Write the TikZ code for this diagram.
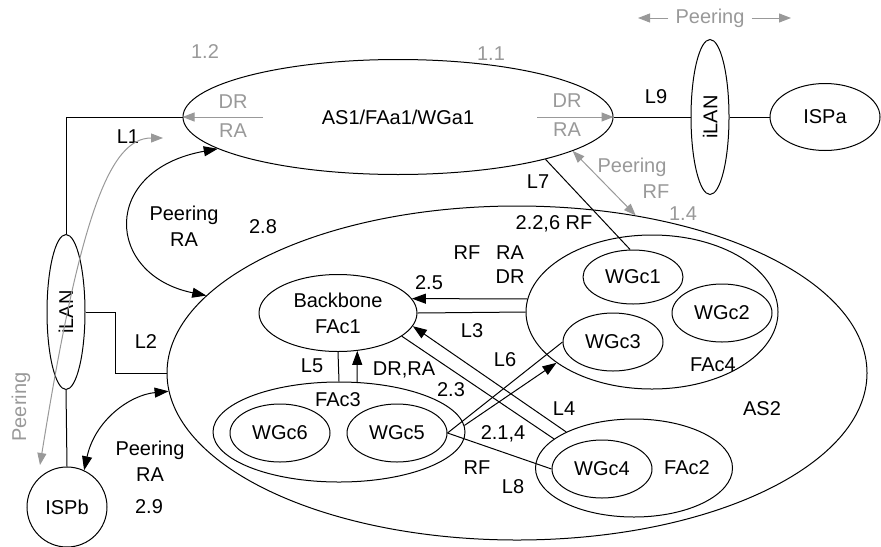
\documentclass[tikz,border=0pt]{standalone}
\usepackage{fontspec}
\setmainfont{Liberation Sans}
\usetikzlibrary{arrows.meta,shapes.geometric}
\definecolor{peergray}{gray}{0.6}

\begin{document}
\begin{tikzpicture}[x=0.5pt, y=-0.5pt,
  font=\fontsize{10}{13}\selectfont,
  dom/.style={draw, ellipse, inner sep=0pt, line width=0.5pt, align=center},
  lan/.style={dom, minimum width=19pt, minimum height=77.5pt},
  wg/.style={dom, minimum width=50pt, minimum height=29pt},
  link/.style={line width=0.5pt},
  msg/.style={line width=0.5pt, -{Triangle[length=7pt,width=5pt]}},
  peer/.style={line width=0.5pt, {Triangle[length=7pt,width=5pt]}-{Triangle[length=7pt,width=5pt]}},
  gmsg/.style={peergray, line width=0.5pt, -{Triangle[length=6pt,width=4.5pt]}},
  gpeer/.style={peergray, line width=0.5pt, {Triangle[length=6pt,width=4.5pt]}-{Triangle[length=6pt,width=4.5pt]}},
  glab/.style={text=peergray, inner sep=1pt, align=center},
  lab/.style={inner sep=1pt, align=center}]
  \useasboundingbox (0,0) rectangle (881,546);
  % domains
  \node[dom, minimum width=215pt, minimum height=57.5pt] (as1) at (398,117) {AS1/FAa1/WGa1};
  \node[dom, minimum width=350pt, minimum height=167pt] (as2) at (517,373) {};
  \node[lan] (ilana) at (710,117) {\rotatebox{90}{iLAN}};
  \node[lan] (ilanb) at (66,312) {\rotatebox{90}{iLAN}};
  \node[dom, minimum width=55pt, minimum height=33.5pt] (ispa) at (825,117) {ISPa};
  \node[draw, circle, minimum size=40pt, inner sep=0pt, line width=0.5pt] (ispb) at (67,507) {ISPb};
  \node[dom, minimum width=79pt, minimum height=38.5pt] (bb) at (338,313) {Backbone\\FAc1};
  \node[dom, minimum width=126pt, minimum height=50pt] (fac3) at (339,432) {};
  \node[wg] (wgc6) at (280,433) {WGc6};
  \node[wg] (wgc5) at (397,433) {WGc5};
  \node[dom, minimum width=126pt, minimum height=77pt] (fac4) at (652,312) {};
  \node[wg, minimum height=27pt] (wgc1) at (633,277) {WGc1};
  \node[wg] (wgc2) at (722,313) {WGc2};
  \node[wg] (wgc3) at (613,342) {WGc3};
  \node[dom, minimum width=98.5pt, minimum height=49pt] (fac2) at (634,468) {};
  \node[wg] (wgc4) at (602,469) {WGc4};
  \node[lab] (lfac3) at (338,400) {FAc3};
  \node[lab] (lfac4) at (713,365) {FAc4};
  \node[lab] (lfac2) at (687,468) {FAc2};
  \node[lab] (las2) at (762,409) {AS2};
  % links
  \draw[link] (ilanb.north) |- (as1.west);
  \draw[link] (ilanb.east) -- ++(30,0) |- (as2.west);
  \draw[link] (ilanb.south) -- (ispb.north);
  \draw[link] (as1.east) -- (ilana.west);
  \draw[link] (ilana.east) -- (ispa.west);
  \draw[link] (as1.-16) -- (wgc1.96);
  \draw[link] (fac4.west) -- (bb.east);
  \draw[link] (bb.south) -- (fac3.north);
  \draw[link] (wgc5.east) -- (wgc3.west);
  \draw[link] (wgc5.east) -- (wgc4.west);
  \draw[link] (bb.-20) -- (fac2.160);
  \node[lab] (l1) at (128,137) {L1};
  \node[lab] (l2) at (146,342) {L2};
  \node[lab] (l3) at (472,331) {L3};
  \node[lab] (l4) at (564,409) {L4};
  \node[lab] (l5) at (312,366) {L5};
  \node[lab] (l6) at (505,360) {L6};
  \node[lab] (l7) at (538,182) {L7};
  \node[lab] (l8) at (513,487) {L8};
  \node[lab] (l9) at (656,97) {L9};
  % messages inside AS2
  \draw[msg] (fac4.174) -- (bb.11);
  \draw[msg] (fac3.70) -- (bb.-63);
  \draw[msg] (fac3.3) -- (fac4.208);
  \draw[msg] (fac2.152) -- (bb.-10);
  \node[lab] (m25) at (429,283) {2.5};
  \node[lab] (mrf) at (467,253) {RF};
  \node[lab] (mra) at (510,253) {RA};
  \node[lab] (mdr) at (510,277) {DR};
  \node[lab] (m23) at (451,390) {2.3};
  \node[lab] (mdrra) at (404,370) {DR,RA};
  \node[lab] (m214) at (503,434) {2.1,4};
  \node[lab] (mrf2) at (477,468) {RF};
  \node[lab] (m226) at (554,224) {2.2,6 RF};
  % peering between domains
  \draw[peer] (as1.190) .. controls (100,170) and (105,275) .. (as2.166);
  \draw[peer] (ispb.65) .. controls (95,420) and (130,395) .. (as2.183);
  \node[lab] (p28) at (184,226) {Peering\\RA};
  \node[lab] (n28) at (263,227) {2.8};
  \node[lab] (p29) at (150,461) {Peering\\RA};
  \node[lab] (n29) at (149,507) {2.9};
  % AS1 exchanges (grey)
  \coordinate (drl) at (263,117);
  \coordinate (drr) at (537,117);
  \draw[gmsg] (drl) -- (as1.west);
  \draw[gmsg] (drr) -- (as1.east);
  \node[glab] (gdrl) at (233,102) {DR};
  \node[glab] (gral) at (233,131) {RA};
  \node[glab] (gdrr) at (567,101) {DR};
  \node[glab] (grar) at (567,130) {RA};
  \node[glab] (g12) at (205,52) {1.2};
  \node[glab] (g11) at (491,54) {1.1};
  \node[glab] (g14) at (683,214) {1.4};
  \draw[gpeer] (as1.-11) -- (as2.53);
  \node[glab] (gprf) at (632,167) {Peering};
  \node[glab] (grf) at (656,192) {RF};
  \node[text=peergray] (gpa) at (710,18) {Peering};
  \coordinate (gpal) at (638,18);
  \coordinate (gpar) at (791,18);
  \draw[gmsg] (gpa.west) -- (gpal);
  \draw[gmsg] (gpa.east) -- (gpar);
  \coordinate (gcb) at (40,465);
  \coordinate (gct) at (163,138);
  \draw[gpeer] (gcb) .. controls (80,215) and (110,138) .. (gct);
  \node[glab, rotate=90] (gpb) at (21,407) {Peering};
\end{tikzpicture}
\end{document}
